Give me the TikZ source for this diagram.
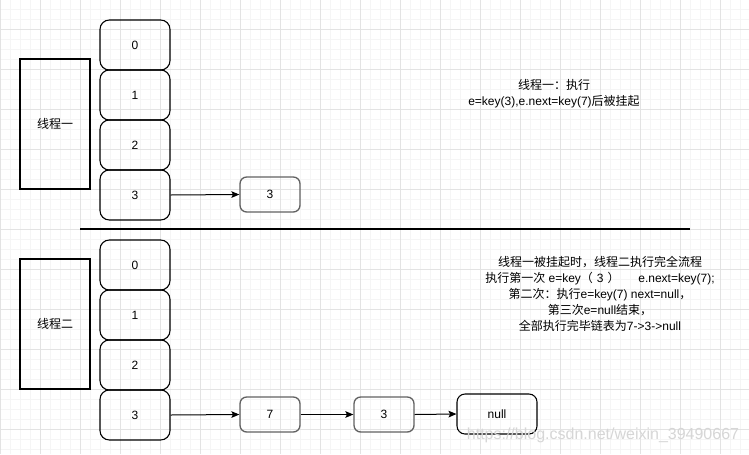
\documentclass[tikz,border=0pt]{standalone}
\usepackage{fontspec}
\setmainfont{Liberation Sans}
\newfontfamily\cjk{Noto Sans CJK SC}
\newcommand{\zh}[1]{{\cjk #1}}
\usetikzlibrary{arrows.meta}
\tikzset{
  px/.style={x=0.75pt,y=-0.75pt},
  thread/.style={draw=black,line width=0.8pt,minimum width=52.5pt,minimum height=97.5pt,inner sep=0pt,font=\cjk\fontsize{9}{11}\selectfont},
  slot/.style={draw=black,line width=0.8pt,rounded corners=7pt,minimum width=52.5pt,minimum height=37.5pt,inner sep=0pt,font=\fontsize{9}{11}\selectfont},
  item/.style={draw=black!62,line width=1pt,rounded corners=5pt,minimum width=45pt,minimum height=26.25pt,inner sep=0pt,font=\fontsize{9}{11}\selectfont},
  nullbox/.style={draw=black,line width=0.8pt,rounded corners=6pt,minimum width=60pt,minimum height=30pt,inner sep=0pt,font=\fontsize{9}{11}\selectfont},
  note/.style={align=center,inner sep=0pt,font=\fontsize{9}{12}\selectfont},
  link/.style={draw=black,line width=0.75pt,-{Stealth[length=6pt,width=5pt,inset=1.2pt]}},
  minorgrid/.style={draw=black!4,line width=0.6pt},
  majorgrid/.style={draw=black!11,line width=0.6pt},
}
\begin{document}
\begin{tikzpicture}[px]
\useasboundingbox (0,0) rectangle (749,454);
\fill[white] (0,0) rectangle (749,454);
% grid
\foreach \x in {0,10,...,749} {\draw[minorgrid] (\x,0) -- (\x,454);}
\foreach \y in {-1,9,...,454} {\draw[minorgrid] (0,\y) -- (749,\y);}
\foreach \x in {0,40,...,749} {\draw[majorgrid] (\x,0) -- (\x,454);}
\foreach \y in {29,69,...,454} {\draw[majorgrid] (0,\y) -- (749,\y);}

% thread one
\node[thread] (t1) at (55,124) {线程一};
\node[slot] (a0) at (135,45) {0};
\node[slot] (a1) at (135,95) {1};
\node[slot] (a2) at (135,145) {2};
\node[slot] (a3) at (135,195) {3};
\node[item] (b3) at (270,194.5) {3};
\draw[link] (a3.east) -- (b3.west);
\node[note] (n1) at (554,94) {\zh{线程一：执行}\\e=key(3),e.next=key(7)\zh{后被挂起}};

% separator
\coordinate (sepL) at (80,229);
\coordinate (sepR) at (690,229);
\draw[line width=0.8pt] (sepL) -- (sepR);

% thread two
\node[thread] (t2) at (55,324) {线程二};
\node[slot] (c0) at (135,265) {0};
\node[slot] (c1) at (135,315) {1};
\node[slot] (c2) at (135,365) {2};
\node[slot] (c3) at (135,415) {3};
\node[item] (d7) at (270,414.5) {7};
\node[item] (d3) at (384,414.5) {3};
\node[nullbox] (dn) at (497,414) {null};
\draw[link] (c3.east) -- (d7.west);
\draw[link] (d7.east) -- (d3.west);
\draw[link] (d3.east) -- (dn.west);
\node[note] (n2) at (600,294) {\zh{线程一被挂起时，线程二执行完全流程}\\\zh{执行第一次} e=key\zh{（}\hspace{3pt}3\hspace{3pt}\zh{）}\hspace{14pt}e.next=key(7);\\\zh{第二次：执行}e=key(7) next=null\zh{，}\\\zh{第三次}e=null\zh{结束，}\\\zh{全部执行完毕链表为}7->3->null};

% watermark
\node[inner sep=0pt,text=black!16,font=\fontsize{12}{14}\selectfont] (wm) at (603,435) {https://blog.csdn.net/weixin\_39490667};
\end{tikzpicture}
\end{document}
